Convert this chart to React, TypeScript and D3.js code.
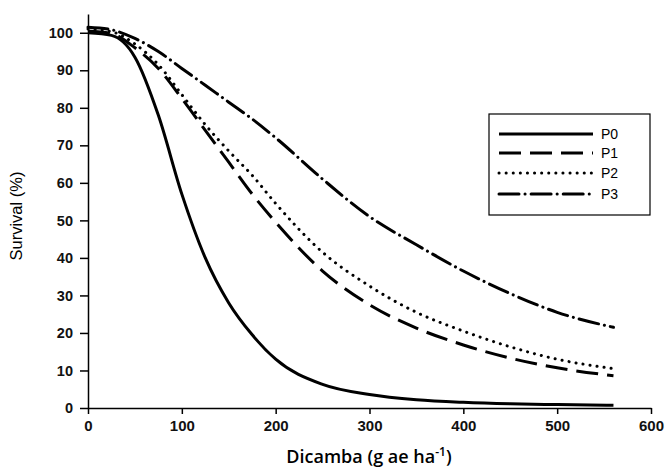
import React, { useEffect, useRef } from 'react';
import * as d3 from 'd3';

const doses = [0, 25, 50, 75, 100, 125, 150, 175, 200, 250, 300, 350, 400, 450, 500, 560];
const p0 = [100, 99.3, 93.5, 78, 57, 40, 28, 19.5, 13, 6.3, 3.6, 2.2, 1.5, 1.1, 0.9, 0.7];
const p1 = [100.5, 99.8, 96, 90.5, 82.5, 74, 65.5, 57, 49.5, 36.5, 27.5, 21.3, 16.8, 13.3, 10.7, 8.6];
const p2 = [101, 100.3, 97, 91.5, 83.5, 75.5, 68.5, 62, 54.5, 41.5, 32.5, 25.5, 20.5, 16.3, 13, 10.5];
const p3 = [101.5, 100.8, 98.5, 95, 90.5, 86, 81.5, 77, 72, 61, 51, 43.5, 36.5, 30.5, 25.5, 21.5];

const seriesNames = ['P0', 'P1', 'P2', 'P3'];
const dashes = [null, '22 9', '0.1 7', '20 6 0.1 6'];
const xTicks = [0, 100, 200, 300, 400, 500, 600];
const yTicks = [0, 10, 20, 30, 40, 50, 60, 70, 80, 90, 100];

const App = () => {
  const ref = useRef(null);

  useEffect(() => {
    const width = 667, height = 470;
    const svg = d3.select(ref.current);
    svg.selectAll('*').remove();
    svg.attr('width', width).attr('height', height);

    const x = d3.scaleLinear().domain([0, 600]).range([88, 651]);
    const y = d3.scaleLinear().domain([0, 105]).range([408, 14]);

    const tickFont = 'Liberation Sans, Arial, sans-serif';

    // x axis
    const xAxis = svg.append('g')
      .attr('transform', 'translate(0,408)')
      .call(d3.axisBottom(x).tickValues(xTicks).tickSize(6).tickSizeOuter(0).tickPadding(6));
    xAxis.select('.domain').attr('stroke', '#000').attr('stroke-width', 1.5);
    xAxis.selectAll('.tick line').attr('stroke', '#000').attr('stroke-width', 1.5);
    xAxis.selectAll('text')
      .attr('font-family', tickFont).attr('font-size', 15).attr('font-weight', 'bold')
      .attr('fill', '#111');

    // y axis
    const yAxis = svg.append('g')
      .attr('transform', 'translate(88,0)')
      .call(d3.axisLeft(y).tickValues(yTicks).tickSize(8).tickSizeOuter(0).tickPadding(7));
    yAxis.select('.domain').attr('stroke', '#000').attr('stroke-width', 1.5);
    yAxis.selectAll('.tick line').attr('stroke', '#000').attr('stroke-width', 1.5);
    yAxis.selectAll('text')
      .attr('font-family', tickFont).attr('font-size', 14.5).attr('font-weight', 'bold')
      .attr('fill', '#111');

    // curves
    const all = [p0, p1, p2, p3];
    const line = d3.line()
      .x((d, i) => x(doses[i]))
      .y(d => y(d))
      .curve(d3.curveMonotoneX);

    all.forEach((vals, k) => {
      svg.append('path')
        .datum(vals)
        .attr('d', line)
        .attr('fill', 'none')
        .attr('stroke', '#000')
        .attr('stroke-width', 3)
        .attr('stroke-linecap', k === 2 || k === 3 ? 'round' : 'butt')
        .attr('stroke-dasharray', dashes[k]);
    });

    // legend
    const lg = svg.append('g');
    lg.append('rect')
      .attr('x', 489).attr('y', 114).attr('width', 161).attr('height', 101)
      .attr('fill', '#fff').attr('stroke', '#000').attr('stroke-width', 1.2);
    const rowY = [134, 153, 173, 194];
    seriesNames.forEach((name, k) => {
      lg.append('line')
        .attr('x1', 499).attr('x2', 593)
        .attr('y1', rowY[k]).attr('y2', rowY[k])
        .attr('stroke', '#000').attr('stroke-width', 3)
        .attr('stroke-linecap', k === 2 || k === 3 ? 'round' : 'butt')
        .attr('stroke-dasharray', dashes[k]);
      lg.append('text')
        .attr('x', 601).attr('y', rowY[k] + 5)
        .attr('font-family', tickFont).attr('font-size', 14)
        .text(name);
    });

    // axis titles
    svg.append('text')
      .attr('transform', 'translate(22,216) rotate(-90)')
      .attr('text-anchor', 'middle')
      .attr('font-family', tickFont).attr('font-size', 16.5)
      .text('Survival (%)');

    const xt = svg.append('text')
      .attr('x', 369).attr('y', 463)
      .attr('text-anchor', 'middle')
      .attr('font-family', 'Open Sans, sans-serif').attr('font-size', 18).attr('font-weight', 600);
    xt.append('tspan').text('Dicamba (g ae ha');
    xt.append('tspan').attr('dy', -7).attr('font-size', 12).text('-1');
    xt.append('tspan').attr('dy', 7).text(')');
  }, []);

  return (
    <svg ref={ref} style={{ position: 'absolute', left: 0, top: 0, background: '#fff' }} />
  );
};

export default App;
